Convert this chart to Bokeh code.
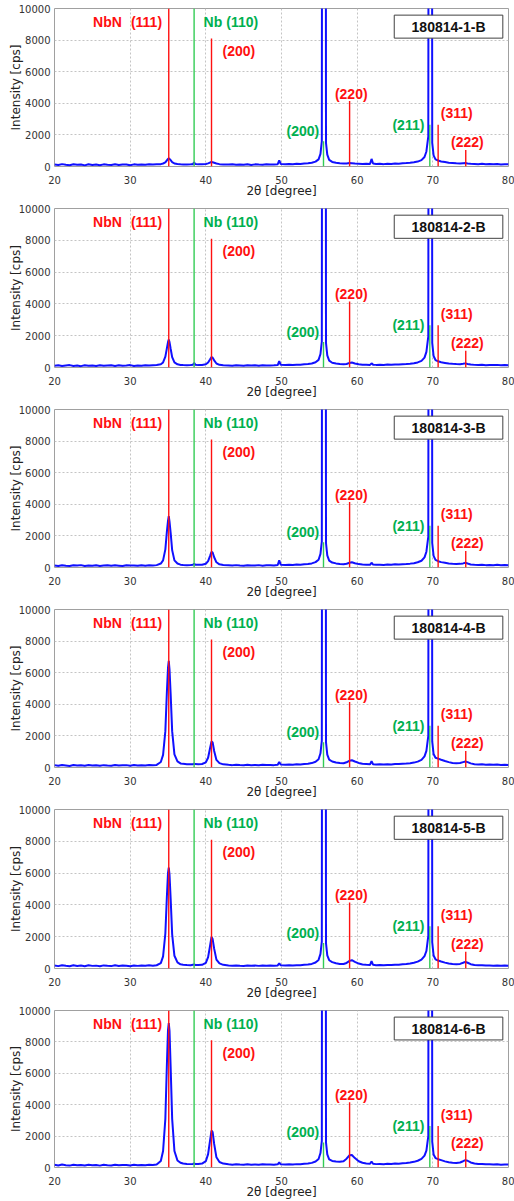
from bokeh.plotting import figure
from bokeh.layouts import column
from bokeh.models import Range1d, SingleIntervalTicker
from bokeh.embed import file_html
from bokeh.resources import INLINE
from bokeh.core.properties import value

# ---------------- data ----------------
two_theta = [
    20, 20.5, 21, 21.5, 22, 22.5, 23, 23.5, 24, 24.5, 25, 25.5, 26, 26.5, 27, 27.5, 28, 28.5, 29, 29.5,
    30, 30.5, 31, 31.5, 32, 32.5, 33, 33.5,
    34.05, 34.35, 34.65, 34.85, 35.0, 35.1, 35.2, 35.35, 35.55, 35.85, 36.25, 36.65,
    37, 37.5, 38, 38.3, 38.45, 38.6, 39, 39.5, 40,
    40.3, 40.55, 40.75, 40.9, 41.1, 41.4, 41.8, 42.3,
    43, 43.5, 44, 44.5, 45, 45.5, 46, 46.5, 47, 47.5, 48, 48.5, 49, 49.5,
    49.7, 49.9, 50.5, 51, 51.5, 52, 52.5, 53, 53.5, 54, 54.5,
    54.9, 55.15, 55.33, 55.39, 55.83, 55.88, 56.05, 56.3, 56.7,
    57.2, 57.7, 58.2, 58.6, 59.0, 59.3, 59.7, 60.2, 60.7, 61.2, 61.7,
    61.9, 62.1, 62.5, 63, 63.5, 64, 64.5, 65, 65.5, 66, 66.5, 67, 67.5, 68, 68.5,
    68.9, 69.15, 69.4, 69.48, 69.86, 69.92, 70.1, 70.35, 70.7,
    71.1, 71.6, 72.1, 72.6, 73.1, 73.6, 74.0, 74.3, 74.6, 75.0,
    75.5, 76, 76.5, 77, 77.5, 78, 78.5, 79, 79.5, 80,
]

intensity_1 = [
    120, 90, 150, 110, 80, 140, 105, 130, 70, 145, 100, 125, 85, 135, 110, 95, 140, 90, 120, 130,
    85, 135, 105, 125, 110, 140, 120, 135,
    150, 190, 260, 390, 480, 520, 480, 400, 280, 190, 160, 140,
    130, 125, 140, 150, 260, 160, 135, 140, 160,
    200, 250, 280, 270, 240, 190, 150, 130,
    120, 140, 105, 130, 115, 145, 100, 135, 120, 110, 140, 125, 130, 150,
    380, 160, 140, 165, 145, 175, 160, 190, 205, 240, 310,
    450, 800, 1600, 40000, 40000, 1500, 750, 420, 290,
    240, 200, 185, 195, 220, 205, 185, 175, 165, 170, 160,
    480, 190, 160, 170, 150, 180, 165, 190, 180, 200, 215, 235, 265, 310, 400,
    600, 950, 1900, 40000, 40000, 1500, 700, 450, 380,
    320, 280, 240, 220, 200, 190, 205, 215, 190, 175,
    160, 145, 170, 140, 155, 145, 160, 130, 150, 140,
]
intensity_2 = [
    110, 140, 95, 130, 150, 100, 125, 85, 140, 115, 130, 90, 145, 105, 125, 135, 95, 140, 110, 120,
    150, 100, 130, 115, 140, 125, 145, 160,
    200, 320, 680, 1200, 1600, 1760, 1600, 1180, 650, 320, 200, 160,
    150, 140, 150, 170, 290, 180, 150, 160, 200,
    310, 500, 660, 620, 450, 250, 170, 140,
    130, 115, 145, 125, 105, 140, 120, 135, 110, 145, 125, 130, 140, 155,
    400, 170, 150, 170, 160, 180, 175, 200, 215, 250, 330,
    480, 850, 1650, 40000, 40000, 1550, 760, 430, 300,
    250, 215, 200, 220, 290, 310, 250, 200, 180, 175, 165,
    260, 180, 165, 175, 160, 185, 170, 195, 185, 205, 220, 240, 270, 320, 420,
    620, 980, 1950, 40000, 40000, 1550, 720, 470, 390,
    330, 290, 250, 230, 215, 210, 235, 260, 225, 185,
    165, 150, 175, 145, 160, 150, 165, 140, 155, 145,
]
intensity_3 = [
    130, 100, 145, 115, 90, 140, 120, 150, 95, 130, 110, 140, 100, 125, 145, 105, 135, 115, 95, 140,
    120, 130, 105, 145, 115, 135, 125, 150,
    250, 450, 1150, 2250, 2950, 3250, 2900, 2200, 1100, 450, 250, 180,
    165, 150, 160, 170, 230, 180, 170, 180, 240,
    400, 720, 1000, 950, 650, 330, 200, 160,
    140, 120, 150, 125, 110, 145, 130, 120, 150, 115, 135, 145, 125, 160,
    450, 175, 155, 175, 160, 185, 170, 205, 220, 260, 340,
    490, 860, 1650, 40000, 40000, 1550, 770, 440, 310,
    260, 225, 210, 235, 300, 330, 270, 215, 190, 180, 170,
    300, 185, 170, 180, 160, 190, 175, 200, 190, 210, 225, 245, 275, 330, 430,
    640, 1000, 1950, 40000, 40000, 1550, 740, 480, 400,
    340, 300, 260, 240, 225, 230, 260, 300, 250, 195,
    170, 155, 175, 150, 160, 150, 170, 140, 160, 145,
]
intensity_4 = [
    150, 115, 160, 130, 100, 155, 125, 145, 110, 160, 120, 140, 105, 150, 130, 115, 155, 120, 140, 150,
    110, 155, 125, 145, 130, 160, 140, 165,
    350, 800, 2300, 4750, 6300, 6750, 6200, 4650, 2300, 830, 390, 260,
    230, 210, 200, 210, 240, 215, 210, 220, 330,
    620, 1200, 1650, 1580, 1050, 480, 280, 200,
    170, 150, 175, 155, 140, 170, 150, 165, 145, 175, 155, 165, 150, 180,
    350, 190, 175, 195, 180, 200, 190, 220, 240, 280, 360,
    520, 900, 1700, 40000, 40000, 1600, 820, 500, 380,
    320, 280, 270, 330, 430, 460, 380, 290, 240, 220, 200,
    400, 210, 190, 200, 185, 210, 195, 220, 215, 235, 250, 275, 310, 370, 480,
    700, 1050, 2000, 40000, 40000, 1650, 850, 620, 560,
    490, 410, 340, 290, 265, 285, 340, 380, 340, 260,
    210, 190, 200, 175, 185, 170, 185, 160, 175, 165,
]
intensity_5 = [
    190, 150, 210, 170, 140, 200, 160, 185, 145, 205, 165, 180, 140, 195, 170, 150, 200, 160, 185, 175,
    145, 195, 165, 185, 170, 200, 180, 205,
    340, 760, 2200, 4500, 6000, 6350, 5900, 4400, 2150, 800, 380, 260,
    240, 220, 210, 230, 260, 225, 220, 230, 360,
    720, 1400, 1980, 1850, 1250, 560, 320, 230,
    190, 170, 195, 175, 160, 190, 170, 185, 165, 195, 175, 185, 170, 195,
    330, 200, 185, 205, 190, 210, 200, 230, 250, 290, 380,
    540, 920, 1700, 40000, 40000, 1600, 830, 520, 400,
    330, 290, 285, 350, 480, 520, 420, 310, 250, 230, 215,
    460, 230, 205, 215, 200, 225, 215, 240, 235, 260, 280, 310, 360, 430, 560,
    780, 1100, 2050, 40000, 40000, 1650, 820, 580, 500,
    440, 370, 310, 280, 260, 290, 360, 420, 360, 270,
    220, 200, 210, 185, 195, 180, 195, 170, 185, 175,
]
intensity_6 = [
    170, 130, 185, 150, 120, 175, 140, 165, 125, 180, 145, 160, 120, 175, 150, 130, 180, 140, 165, 155,
    125, 175, 145, 165, 150, 180, 160, 185,
    420, 1050, 3100, 6500, 8750, 9200, 8700, 6400, 3100, 1050, 450, 300,
    250, 230, 215, 225, 260, 230, 230, 250, 400,
    850, 1700, 2350, 2250, 1500, 650, 350, 250,
    200, 180, 205, 185, 170, 200, 180, 195, 175, 205, 185, 195, 180, 200,
    320, 200, 190, 210, 195, 215, 205, 235, 255, 295, 380,
    540, 920, 1700, 40000, 40000, 1600, 830, 520, 420,
    380, 360, 400, 560, 780, 800, 600, 400, 300, 260, 235,
    380, 240, 215, 225, 210, 235, 225, 250, 245, 270, 290, 320, 360, 430, 550,
    760, 1080, 2000, 40000, 40000, 1650, 830, 600, 530,
    470, 390, 330, 300, 290, 320, 400, 470, 430, 320,
    250, 220, 230, 200, 210, 190, 205, 180, 195, 185,
]

sample_names = ["180814-1-B", "180814-2-B", "180814-3-B", "180814-4-B", "180814-5-B", "180814-6-B"]

# reference peak positions (2theta) and marker heights (cps)
nbn_pos = [35.1, 40.75, 59.0, 70.7, 74.35]
nbn_top = [10000, 8100, 4150, 2650, 1050]
nb_pos = [38.45, 55.55, 69.6]
nb_top = [10000, 1600, 2650]

# annotation texts
red_text = ["NbN", "(111)", "(200)", "(220)", "(311)", "(222)"]
red_x = [25.1, 30.1, 42.2, 57.06, 71.06, 72.4]
red_y = [9150, 9150, 7300, 4620, 3370, 1560]
green_text = ["Nb", "(110)", "(200)", "(211)"]
green_x = [39.7, 42.7, 50.66, 64.66]
green_y = [9150, 9150, 2250, 2650]

# sample name box (data coords)
box_lr = [64.9, 79.25]
box_bt = [8125, 9580]

# ---------------- styling ----------------
RED = "#ff1010"
GREEN = "#00b050"
GREEN_LINE = "#33cc55"
BLUE = "#1010ff"

series = [intensity_1, intensity_2, intensity_3, intensity_4, intensity_5, intensity_6]
heights = [200, 201, 200, 200, 201, 199]


def make_panel(ys, name, h):
    p = figure(width=514, height=h,
               x_range=Range1d(20, 80), y_range=Range1d(0, 10000),
               output_backend="svg", toolbar_location=None,
               min_border_left=54, min_border_right=6, min_border_top=8,
               min_border_bottom=h - 8 - 160)
    p.outline_line_color = "#a0a0a0"
    p.outline_line_width = 1
    p.background_fill_color = "white"
    p.border_fill_color = "white"

    p.xaxis.ticker = SingleIntervalTicker(interval=10)
    p.yaxis.ticker = SingleIntervalTicker(interval=2000)
    for ax in (p.xaxis, p.yaxis):
        ax.axis_line_color = None
        ax.major_tick_line_color = None
        ax.minor_tick_line_color = None
        ax.major_tick_out = 0
        ax.major_tick_in = 0
        ax.major_label_text_font = "DejaVu Sans"
        ax.major_label_text_font_size = "10px"
        ax.major_label_text_color = "#333333"
        ax.axis_label_text_font = "DejaVu Sans"
        ax.axis_label_text_font_size = "12px"
        ax.axis_label_text_font_style = "normal"
        ax.axis_label_text_color = "#222222"
    p.xaxis.major_label_standoff = 5
    p.xaxis.axis_label_standoff = -3
    p.yaxis.major_label_standoff = 0
    p.yaxis.axis_label_standoff = -7
    p.xaxis.axis_label = "2θ [degree]"
    p.yaxis.axis_label = "Intensity [cps]"

    for g in (p.xgrid, p.ygrid):
        g.grid_line_color = "#c4c4c4"
        g.grid_line_dash = "2 2"
        g.grid_line_width = 1

    p.line(two_theta, ys, line_color=BLUE, line_width=2)

    p.segment(x0=nbn_pos, y0=0, x1=nbn_pos, y1=nbn_top, line_color=RED, line_width=1.4)
    p.segment(x0=nb_pos, y0=0, x1=nb_pos, y1=nb_top, line_color=GREEN_LINE, line_width=1.4)

    p.text(x=red_x, y=red_y, text=red_text, text_color=RED,
           text_font=value("Liberation Sans"), text_font_style="bold", text_font_size="14px",
           text_baseline="middle", text_align="left")
    p.text(x=green_x, y=green_y, text=green_text, text_color=GREEN,
           text_font=value("Liberation Sans"), text_font_style="bold", text_font_size="14px",
           text_baseline="middle", text_align="left")

    p.quad(left=[box_lr[0]], right=[box_lr[1]], bottom=[box_bt[0]], top=[box_bt[1]],
           fill_color="white", line_color="#404040", line_width=1)
    p.text(x=[(box_lr[0] + box_lr[1]) / 2], y=[(box_bt[0] + box_bt[1]) / 2], text=[name],
           text_color="#111111", text_font=value("Liberation Sans"), text_font_style="bold",
           text_font_size="14px", text_baseline="middle", text_align="center")
    return p


panels = [make_panel(ys, nm, h) for ys, nm, h in zip(series, sample_names, heights)]
layout = column(*panels, spacing=0)

open("out.html", "w").write(file_html(layout, INLINE))
